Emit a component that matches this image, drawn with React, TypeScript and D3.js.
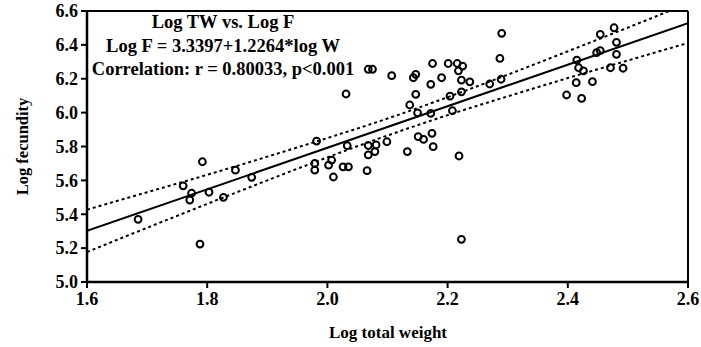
import React from "react";
import * as d3 from "d3";

const logWeight = [
  1.685, 1.76, 1.774, 1.771, 1.803, 1.827, 1.788, 1.874, 1.847, 1.792,
  2.068, 2.075, 2.107, 2.031, 1.982, 2.033, 2.068, 2.081, 2.099, 2.068,
  2.079, 2.066, 1.979, 1.979, 2.007, 2.002, 2.026, 2.035, 2.01, 2.133,
  2.137, 2.147, 2.143, 2.175, 2.201, 2.216, 2.225, 2.218, 2.287, 2.19,
  2.172, 2.223, 2.237, 2.27, 2.289, 2.223, 2.204, 2.147, 2.15, 2.172,
  2.208, 2.151, 2.16, 2.174, 2.176, 2.219, 2.29, 2.223, 2.454, 2.477,
  2.481, 2.448, 2.454, 2.481, 2.415, 2.418, 2.426, 2.471, 2.492, 2.414,
  2.441, 2.398, 2.423,
];
const logFecundity = [
  5.37, 5.568, 5.524, 5.484, 5.53, 5.5, 5.224, 5.618, 5.66, 5.71,
  6.256, 6.256, 6.218, 6.11, 5.832, 5.805, 5.806, 5.809, 5.828, 5.75,
  5.77, 5.657, 5.661, 5.7, 5.72, 5.69, 5.68, 5.68, 5.62, 5.77,
  6.045, 6.226, 6.206, 6.29, 6.29, 6.29, 6.275, 6.247, 6.32, 6.206,
  6.167, 6.192, 6.182, 6.169, 6.197, 6.123, 6.098, 6.108, 5.999, 5.996,
  6.011, 5.858, 5.842, 5.878, 5.799, 5.744, 6.468, 5.252, 6.462, 6.501,
  6.415, 6.354, 6.366, 6.344, 6.31, 6.265, 6.246, 6.265, 6.262, 6.177,
  6.183, 6.104, 6.084,
];

const bandX = [1.6, 1.7, 1.8, 1.9, 2.0, 2.1, 2.2, 2.3, 2.4, 2.5, 2.6];
const bandUpper = [5.427, 5.53, 5.633, 5.74, 5.85, 5.965, 6.091, 6.224, 6.362, 6.502, 6.645];
const bandLower = [5.177, 5.32, 5.461, 5.6, 5.736, 5.865, 5.985, 6.096, 6.204, 6.308, 6.411];

const fitIntercept = 3.3397;
const fitSlope = 1.2264;

const xTicks = [1.6, 1.8, 2.0, 2.2, 2.4, 2.6];
const yTicks = [5.0, 5.2, 5.4, 5.6, 5.8, 6.0, 6.2, 6.4, 6.6];

const annotationLines = [
  "Log TW vs. Log F",
  "Log F = 3.3397+1.2264*log W",
  "Correlation: r = 0.80033, p<0.001",
];
const xTitle = "Log total weight";
const yTitle = "Log fecundity";

export default function App() {
  const W = 701;
  const H = 347;
  const L = 87, R = 688, T = 11, B = 282;
  const x = d3.scaleLinear().domain([1.6, 2.6]).range([L, R]);
  const y = d3.scaleLinear().domain([5.0, 6.6]).range([B, T]);

  const line = d3
    .line<[number, number]>()
    .x((d) => x(d[0]))
    .y((d) => y(d[1]));
  const smooth = d3
    .line<[number, number]>()
    .x((d) => x(d[0]))
    .y((d) => y(d[1]))
    .curve(d3.curveMonotoneX);

  const fitPts: [number, number][] = [1.6, 2.6].map((v) => [v, fitIntercept + fitSlope * v]);
  const upPts: [number, number][] = bandX.map((v, i) => [v, bandUpper[i]]);
  const loPts: [number, number][] = bandX.map((v, i) => [v, bandLower[i]]);

  const font = "'Liberation Serif', 'Times New Roman', serif";

  return (
    <div style={{ position: "absolute", left: 0, top: 0 }}>
      <svg width={W} height={H} style={{ display: "block", background: "#fff" }}>
        <defs>
          <clipPath id="plotclip">
            <rect x={L} y={T} width={R - L} height={B - T} />
          </clipPath>
        </defs>
        <g clipPath="url(#plotclip)">
          <path d={line(fitPts) || ""} fill="none" stroke="#000" strokeWidth={2} />
          <path d={smooth(upPts) || ""} fill="none" stroke="#000" strokeWidth={2} strokeDasharray="3,3" />
          <path d={smooth(loPts) || ""} fill="none" stroke="#000" strokeWidth={2} strokeDasharray="3,3" />
        </g>
        {logWeight.map((v, i) => (
          <circle key={i} cx={x(v)} cy={y(logFecundity[i])} r={3.4} fill="none" stroke="#000" strokeWidth={2} />
        ))}
        <line x1={L} y1={T} x2={R} y2={T} stroke="#000" strokeWidth={2} />
        <line x1={R} y1={T} x2={R} y2={B} stroke="#000" strokeWidth={2} />
        <line x1={L} y1={T - 1} x2={L} y2={B + 1} stroke="#000" strokeWidth={2.5} />
        <line x1={L - 1} y1={B} x2={R + 1} y2={B} stroke="#000" strokeWidth={2.5} />
        {yTicks.map((t) => (
          <g key={"y" + t}>
            <line x1={L - 6} x2={L} y1={y(t)} y2={y(t)} stroke="#000" strokeWidth={2} />
            <text x={L - 9} y={y(t)} dy="0.35em" textAnchor="end" fontFamily={font} fontWeight="bold" fontSize={18}>
              {t.toFixed(1)}
            </text>
          </g>
        ))}
        {xTicks.map((t) => (
          <g key={"x" + t}>
            <line x1={x(t)} x2={x(t)} y1={B} y2={B + 6} stroke="#000" strokeWidth={2} />
            <text x={x(t)} y={B + 23} textAnchor="middle" fontFamily={font} fontWeight="bold" fontSize={18}>
              {t.toFixed(1)}
            </text>
          </g>
        ))}
        <text x={388} y={338} textAnchor="middle" fontFamily={font} fontWeight="bold" fontSize={17}>
          {xTitle}
        </text>
        <text
          transform={`translate(28,${(T + B) / 2}) rotate(-90)`}
          textAnchor="middle"
          fontFamily={font}
          fontWeight="bold"
          fontSize={16.5}
        >
          {yTitle}
        </text>
        {annotationLines.map((s, i) => (
          <text key={i} x={223} y={28 + i * 23.5} textAnchor="middle" fontFamily={font} fontSize={18.5} fontWeight="bold">
            {s}
          </text>
        ))}
      </svg>
    </div>
  );
}
